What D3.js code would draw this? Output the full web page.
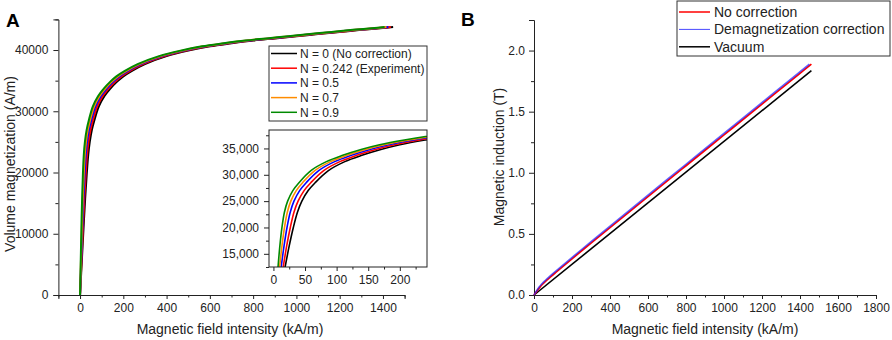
<!DOCTYPE html>
<html>
<head>
<meta charset="utf-8">
<script src="https://cdn.jsdelivr.net/npm/d3@7"></script>
<style>
  body { margin: 0; background: #fff; }
  svg { font-family: "Liberation Sans", Arial, sans-serif; }
  .axis path, .axis line { stroke: #222; }
  .axis text { fill: #222; font-size: 12px; }
</style>
</head>
<body>
<svg id="chart" width="892" height="340"></svg>
<script>
// Panel A: volume magnetization (A/m) vs field (kA/m), one H array per demag factor N
var magM = [0, 6100, 12500, 16500, 20000, 22900, 25000, 27000, 28500, 30800, 32500, 33700, 34800, 35700, 36600,
            37700, 39000, 39900, 40600, 41100, 41550, 41900, 42250, 42600, 42950, 43300, 43600, 43750];
var hN0   = [0, 9, 18.5, 25, 31.5, 38, 45, 55, 66, 87, 113, 140, 170, 200, 240,
             300, 400, 500, 600, 700, 800, 900, 1000, 1100, 1200, 1300, 1400, 1447];
var hN242 = [0, 7.5, 15.5, 21.0, 26.7, 32.5, 39.0, 48.5, 59.1, 79.5, 105.1, 131.8, 161.6, 191.4, 231.1,
             290.9, 390.6, 490.3, 590.2, 690.1, 789.9, 889.9, 989.8, 1089.7, 1189.6, 1289.5, 1389.4, 1436.4];
var hN05  = [0, 6.0, 12.3, 16.8, 21.5, 26.6, 32.5, 41.5, 51.8, 71.6, 96.8, 123.2, 152.6, 182.2, 221.7,
             281.2, 380.5, 480.1, 579.7, 679.5, 779.2, 879.1, 978.9, 1078.7, 1178.5, 1278.4, 1378.2, 1425.1];
var hN07  = [0, 4.7, 9.8, 13.5, 17.5, 22.0, 27.5, 36.1, 46.1, 65.4, 90.3, 116.4, 145.6, 175.0, 214.4,
             273.6, 372.7, 472.1, 571.6, 671.2, 770.9, 870.7, 970.4, 1070.2, 1169.9, 1269.7, 1369.5, 1416.4];
var hN09  = [0, 3.5, 7.3, 10.2, 13.5, 17.4, 22.5, 30.7, 40.4, 59.3, 83.8, 109.7, 138.7, 167.9, 207.1,
             266.1, 364.9, 464.1, 563.5, 663.0, 762.6, 862.3, 962.0, 1061.7, 1161.3, 1261.0, 1360.8, 1407.6];
var seriesNames = ["N = 0 (No correction)", "N = 0.242 (Experiment)", "N = 0.5", "N = 0.7", "N = 0.9"];
var seriesColors = ["#000000", "#ff0000", "#0000ff", "#ff8c00", "#008a00"];
var seriesH = [hN0, hN242, hN05, hN07, hN09];

var xTicksA = [0, 200, 400, 600, 800, 1000, 1200, 1400];
var yTicksA = [0, 10000, 20000, 30000, 40000];
var insetXTicks = [0, 50, 100, 150, 200];
var insetYTicks = [15000, 20000, 25000, 30000, 35000];

// Panel B: magnetic induction (T) vs field (kA/m)
var bH      = [0, 9, 18.5, 31.5, 45, 66, 87, 113, 140, 200, 300, 400, 600, 800, 1000, 1200, 1400, 1460];
var bHdemag = [0, 7.5, 15.5, 26.7, 39.0, 59.1, 79.6, 105.1, 131.8, 191.4, 290.9, 390.6, 590.2, 789.9, 989.8, 1189.6, 1389.5, 1449.4];
var bNoCorr = [0, 0.019, 0.039, 0.0647, 0.088, 0.1188, 0.148, 0.1828, 0.2183, 0.2962, 0.4244, 0.5517,
               0.805, 1.0575, 1.3097, 1.5619, 1.814, 1.8897];
var vacH = [0, 1460];
var vacB = [0, 1.835];
var namesB = ["No correction", "Demagnetization correction", "Vacuum"];
var colorsB = ["#ff0000", "#4848ff", "#000000"];
var xTicksB = [0, 200, 400, 600, 800, 1000, 1200, 1400, 1600, 1800];
var yTicksB = [0, 0.5, 1.0, 1.5, 2.0];

var svg = d3.select("#chart");

// ---------- Panel A ----------
var xA = d3.scaleLinear().domain([-100, 1500]).range([58.4, 404.6]);
var yA = d3.scaleLinear().domain([0, 45000]).range([295, 19.4]);

svg.append("g").attr("class", "axis").attr("transform", "translate(0,295)")
  .call(d3.axisBottom(xA).tickValues(xTicksA).tickSize(4).tickPadding(4).tickFormat(d3.format("d")));
svg.append("g").attr("class", "axis").attr("transform", "translate(0,295)")
  .call(d3.axisBottom(xA).tickValues(d3.range(-100, 1501, 200)).tickSize(2.5).tickFormat(""))
  .select(".domain").remove();
svg.append("g").attr("class", "axis").attr("transform", "translate(58.4,0)")
  .call(d3.axisLeft(yA).tickValues(yTicksA).tickSize(5).tickPadding(5).tickFormat(d3.format("d")));
svg.append("g").attr("class", "axis").attr("transform", "translate(58.4,0)")
  .call(d3.axisLeft(yA).tickValues(d3.range(5000, 45001, 10000)).tickSize(3).tickFormat(""))
  .select(".domain").remove();

var lineA = d3.line().curve(d3.curveCatmullRom.alpha(0.5))
  .x(d => d.x).y(d => d.y);

seriesH.forEach(function(hs, k) {
  svg.append("path")
    .attr("d", lineA(hs.map((h, i) => ({ x: xA(h), y: yA(magM[i]) }))))
    .attr("fill", "none").attr("stroke", seriesColors[k]).attr("stroke-width", 2);
});

svg.append("text").attr("x", 6).attr("y", 27).style("font-size", "19px").style("font-weight", "bold").text("A");
svg.append("text").attr("x", 230).attr("y", 334).attr("text-anchor", "middle").style("font-size", "14px").attr("fill", "#222")
  .text("Magnetic field intensity (kA/m)");
svg.append("text").attr("transform", "translate(15,164) rotate(-90)").attr("text-anchor", "middle")
  .style("font-size", "14px").attr("fill", "#222").text("Volume magnetization (A/m)");

// legend A
var legA = svg.append("g");
legA.append("rect").attr("x", 269).attr("y", 46).attr("width", 158).attr("height", 75)
  .attr("fill", "#fff").attr("stroke", "#333").attr("stroke-width", 1);
seriesNames.forEach(function(name, k) {
  var yy = 53.5 + k * 14.7;
  legA.append("line").attr("x1", 271).attr("x2", 297).attr("y1", yy).attr("y2", yy)
    .attr("stroke", seriesColors[k]).attr("stroke-width", 1.5);
  legA.append("text").attr("x", 300).attr("y", yy + 4.3).style("font-size", "12px").attr("fill", "#222").text(name);
});

// inset
var xI = d3.scaleLinear().domain([-7, 243]).range([269, 427]);
var yI = d3.scaleLinear().domain([12500, 38500]).range([267, 130]);
svg.append("clipPath").attr("id", "insetClip").append("rect")
  .attr("x", 269).attr("y", 130).attr("width", 158).attr("height", 137);
svg.append("rect").attr("x", 269).attr("y", 130).attr("width", 158).attr("height", 137).attr("fill", "#fff");
var gI = svg.append("g").attr("clip-path", "url(#insetClip)");
seriesH.forEach(function(hs, k) {
  gI.append("path")
    .attr("d", lineA(hs.map((h, i) => ({ x: xI(h), y: yI(magM[i]) }))))
    .attr("fill", "none").attr("stroke", seriesColors[k]).attr("stroke-width", 1.6);
});
svg.append("rect").attr("x", 269).attr("y", 130).attr("width", 158).attr("height", 137)
  .attr("fill", "none").attr("stroke", "#222").attr("stroke-width", 1);
svg.append("g").attr("class", "axis").attr("transform", "translate(0,267)")
  .call(d3.axisBottom(xI).tickValues(insetXTicks).tickSize(4).tickPadding(4).tickFormat(d3.format("d")))
  .select(".domain").remove();
svg.append("g").attr("class", "axis").attr("transform", "translate(0,267)")
  .call(d3.axisBottom(xI).tickValues([25, 75, 125, 175, 225]).tickSize(2.5).tickFormat(""))
  .select(".domain").remove();
svg.append("g").attr("class", "axis").attr("transform", "translate(269,0)")
  .call(d3.axisLeft(yI).tickValues(insetYTicks).tickSize(5).tickPadding(5).tickFormat(d3.format(",")))
  .select(".domain").remove();
svg.append("g").attr("class", "axis").attr("transform", "translate(269,0)")
  .call(d3.axisLeft(yI).tickValues([12500, 17500, 22500, 27500, 32500, 37500]).tickSize(3).tickFormat(""))
  .select(".domain").remove();

// ---------- Panel B ----------
var xB = d3.scaleLinear().domain([0, 1800]).range([534, 876]);
var yB = d3.scaleLinear().domain([0, 2.25]).range([295, 20]);

svg.append("g").attr("class", "axis").attr("transform", "translate(0,295)")
  .call(d3.axisBottom(xB).tickValues(xTicksB).tickSize(4).tickPadding(4).tickFormat(d3.format("d")));
svg.append("g").attr("class", "axis").attr("transform", "translate(0,295)")
  .call(d3.axisBottom(xB).tickValues(d3.range(100, 1800, 200)).tickSize(2.5).tickFormat(""))
  .select(".domain").remove();
svg.append("g").attr("class", "axis").attr("transform", "translate(534,0)")
  .call(d3.axisLeft(yB).tickValues(yTicksB).tickSize(5).tickPadding(4).tickFormat(d3.format(".1f")));
svg.append("g").attr("class", "axis").attr("transform", "translate(534,0)")
  .call(d3.axisLeft(yB).tickValues([0.25, 0.75, 1.25, 1.75, 2.25]).tickSize(3).tickFormat(""))
  .select(".domain").remove();

var lineB = d3.line().curve(d3.curveCatmullRom.alpha(0.5)).x(d => d.x).y(d => d.y);
svg.append("path").attr("d", lineB(vacH.map((h, i) => ({ x: xB(h), y: yB(vacB[i]) }))))
  .attr("fill", "none").attr("stroke", colorsB[2]).attr("stroke-width", 1.6);
svg.append("path").attr("d", lineB(bH.map((h, i) => ({ x: xB(h), y: yB(bNoCorr[i]) }))))
  .attr("fill", "none").attr("stroke", colorsB[0]).attr("stroke-width", 1.7);
svg.append("path").attr("d", lineB(bHdemag.map((h, i) => ({ x: xB(h), y: yB(bNoCorr[i]) }))))
  .attr("fill", "none").attr("stroke", "#2020ff").attr("stroke-width", 1.6).attr("stroke-opacity", 0.7);

svg.append("text").attr("x", 461).attr("y", 26).style("font-size", "19px").style("font-weight", "bold").text("B");
svg.append("text").attr("x", 705).attr("y", 334).attr("text-anchor", "middle").style("font-size", "14px").attr("fill", "#222")
  .text("Magnetic field intensity (kA/m)");
svg.append("text").attr("transform", "translate(504,157) rotate(-90)").attr("text-anchor", "middle")
  .style("font-size", "14px").attr("fill", "#222").text("Magnetic induction (T)");

var legB = svg.append("g");
legB.append("rect").attr("x", 677).attr("y", 1).attr("width", 213).attr("height", 55)
  .attr("fill", "#fff").attr("stroke", "#333").attr("stroke-width", 1);
namesB.forEach(function(name, k) {
  var yy = 12 + k * 17.4;
  legB.append("line").attr("x1", 679).attr("x2", 710).attr("y1", yy).attr("y2", yy)
    .attr("stroke", colorsB[k]).attr("stroke-width", k === 1 ? 1 : 1.5);
  legB.append("text").attr("x", 714).attr("y", yy + 5).style("font-size", "14px").attr("fill", "#222").text(name);
});
</script>
</body>
</html>
